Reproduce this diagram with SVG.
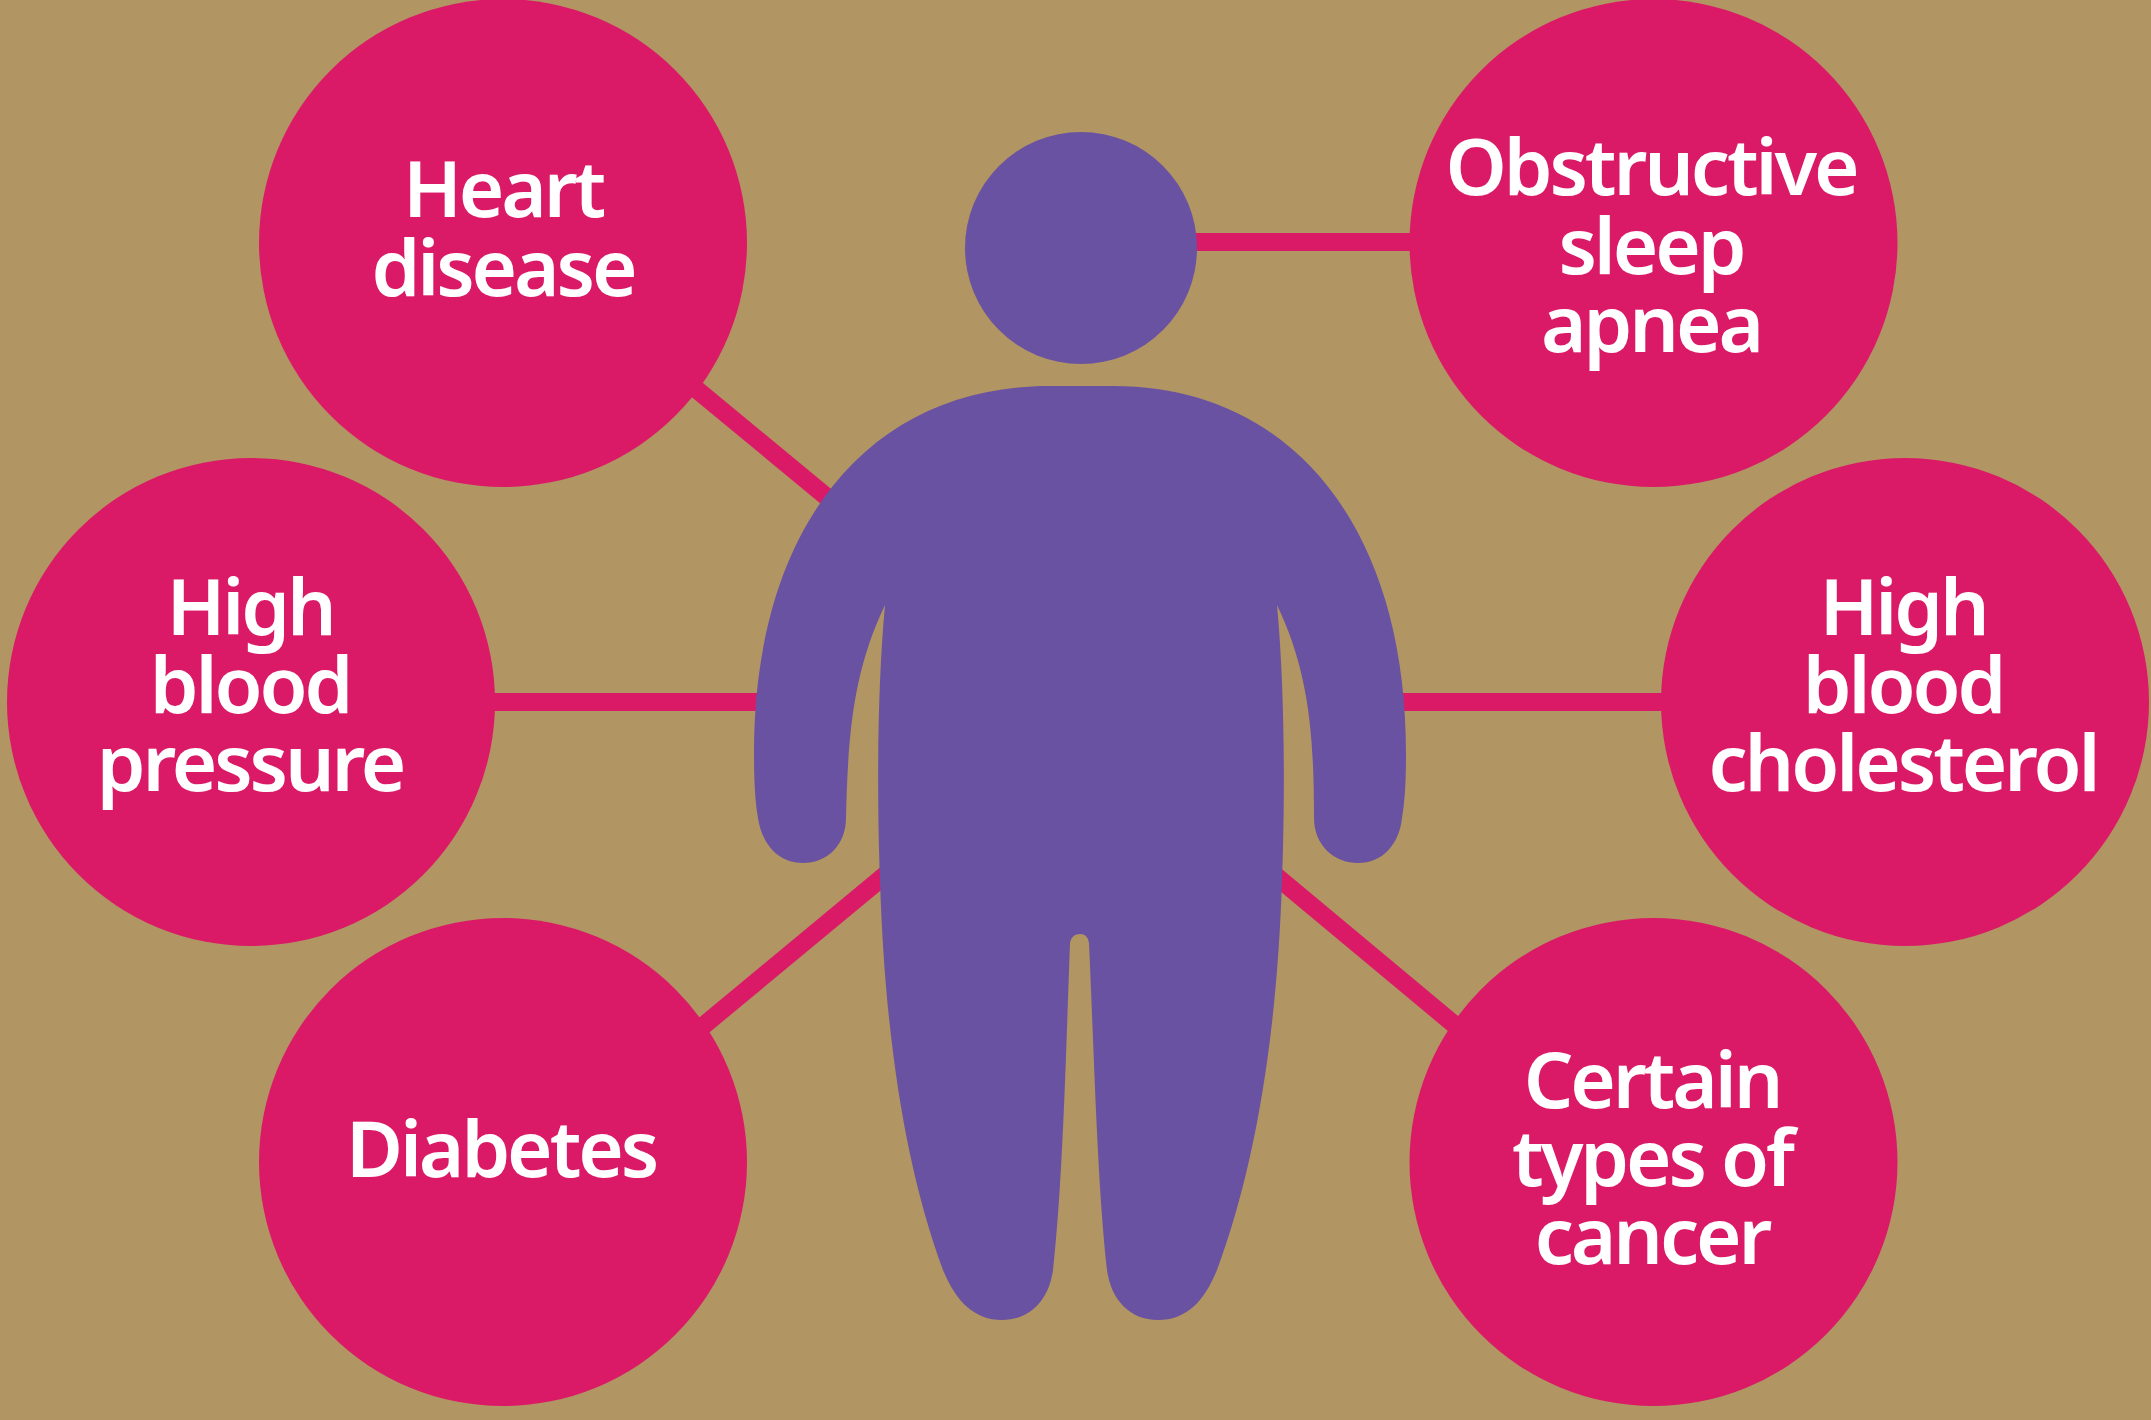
<svg xmlns="http://www.w3.org/2000/svg" width="2151" height="1420" viewBox="0 0 2151 1420">
<style>
.c{fill:#DB1A67}
.l{stroke:#DB1A67;stroke-width:18;fill:none}
.p{fill:#6A52A2}
text{font-family:"Noto Sans","Open Sans","Liberation Sans",sans-serif;font-weight:600;font-size:78px;letter-spacing:-3.1px;fill:#fff;text-anchor:middle}
</style>
<rect width="2151" height="1420" fill="#B19562"/>
<g id="connectors">
<path class="l" d="M1190 242H1420"/>
<path class="l" d="M480 702H780"/>
<path class="l" d="M1380 702H1680"/>
<path class="l" d="M690 384L840 508"/>
<path class="l" d="M700 1028.500L890 871"/>
<path class="l" d="M1270 871L1462 1031"/>
</g>
<g id="person">
<circle class="p" cx="1081" cy="248" r="116"/>
<path class="p" d="M1049 386H1113C1290 386 1406 525 1406 753C1406 780 1405 800 1402 818C1399 845 1382 863 1358 863C1334 863 1314 845 1314 818C1314 730 1308 670 1277 605C1285 690 1285 800 1282 880C1277 1040 1254 1170 1217 1270C1204 1302 1186 1320 1158 1320C1130 1320 1111 1300 1107 1270C1097 1180 1094 1050 1089 943C1088 937 1085 934 1080 934C1075 934 1071 937 1070 943C1066 1050 1063 1180 1053 1270C1049 1300 1030 1320 1002 1320C975 1320 956 1302 943 1270C906 1170 885 1040 880 880C877 800 877 690 885 605C854 670 848 730 846 818C846 845 827 863 803 863C779 863 762 845 758 818C755 800 754 780 754 753C754 525 870 386 1049 386Z"/>
</g>
<g id="heart-disease">
<circle class="c" cx="503" cy="243" r="244"/>
<text x="503" y="217">Heart</text>
<text x="503" y="296">disease</text>
</g>
<g id="sleep-apnea">
<circle class="c" cx="1653.5" cy="243" r="244"/>
<text x="1651" y="195">Obstructive</text>
<text x="1651" y="274">sleep</text>
<text x="1651" y="352">apnea</text>
</g>
<g id="high-blood-pressure">
<circle class="c" cx="251" cy="702" r="244"/>
<text x="250" y="635">High</text>
<text x="250" y="713">blood</text>
<text x="250" y="791">pressure</text>
</g>
<g id="high-blood-cholesterol">
<circle class="c" cx="1905" cy="702" r="244"/>
<text x="1903" y="635">High</text>
<text x="1903" y="713">blood</text>
<text x="1903" y="791">cholesterol</text>
</g>
<g id="diabetes">
<circle class="c" cx="503" cy="1162" r="244"/>
<text x="501" y="1177">Diabetes</text>
</g>
<g id="cancer">
<circle class="c" cx="1653.5" cy="1162" r="244"/>
<text x="1652" y="1108">Certain</text>
<text x="1652" y="1186">types of</text>
<text x="1652" y="1264">cancer</text>
</g>
</svg>
